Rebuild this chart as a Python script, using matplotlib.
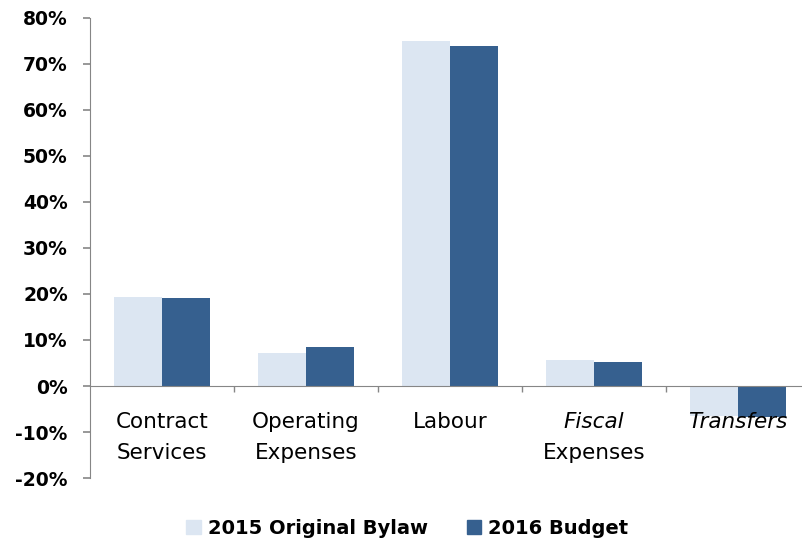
import matplotlib.pyplot as plt
import numpy as np
from matplotlib.patches import Patch

# Share of spending by category
categories = ["Contract Services", "Operating Expenses", "Labour", "Fiscal Expenses", "Transfers"]
label_lines = [["Contract", "Services"], ["Operating", "Expenses"], ["Labour"], ["Fiscal", "Expenses"], ["Transfers"]]
italic_lines = [[False, False], [False, False], [False], [True, False], [True]]
bylaw_2015 = [19.3, 7.2, 75.0, 5.6, -6.5]
budget_2016 = [19.1, 8.5, 73.9, 5.2, -6.8]
yticks = list(range(-20, 81, 10))

light = "#dce6f2"
dark = "#36608f"
grey = "#868686"

fig = plt.figure(figsize=(8.03, 5.45), dpi=100)
ax = fig.add_axes([90 / 803, 67 / 545, 720 / 803, 460 / 545])

x = np.arange(len(categories))
w = 1 / 3
ax.bar(x - w / 2, bylaw_2015, w, color=light, label="2015 Original Bylaw", zorder=2)
ax.bar(x + w / 2, budget_2016, w, color=dark, label="2016 Budget", zorder=2)

ax.set_xlim(-0.5, len(categories) - 0.5)
ax.set_ylim(-20, 80)
ax.set_yticks(yticks)
ax.set_yticklabels([f"{t}%" for t in yticks], fontsize=13.5, fontweight="bold")

for side in ["top", "right"]:
    ax.spines[side].set_visible(False)
ax.spines["left"].set_color(grey)
ax.spines["bottom"].set_color(grey)
ax.spines["bottom"].set_position(("data", 0))
ax.spines["bottom"].set_zorder(3)
ax.tick_params(axis="y", colors=grey, length=5, width=1.2, labelcolor="black", pad=11)
ax.set_xticks(x[:-1] + 0.5)
ax.set_xticklabels([])
ax.tick_params(axis="x", colors=grey, length=4.3, width=1)

# category labels, two lines where needed
for i, lines in enumerate(label_lines):
    for j, line in enumerate(lines):
        ax.annotate(line, xy=(i, 0), xytext=(0, -36 - 31 * j), textcoords="offset pixels",
                    ha="center", va="center", fontsize=15.5,
                    style="italic" if italic_lines[i][j] else "normal", zorder=4)

handles = [Patch(color=light), Patch(color=dark)]
fig.legend(handles, ["2015 Original Bylaw", "2016 Budget"], loc="center",
           bbox_to_anchor=(0.507, 0.031), ncol=2, frameon=False,
           prop={"weight": "bold", "size": 14}, handlelength=0.75, handleheight=0.75,
           handletextpad=0.35, columnspacing=2.0)

fig.savefig("out.png", dpi=100)
